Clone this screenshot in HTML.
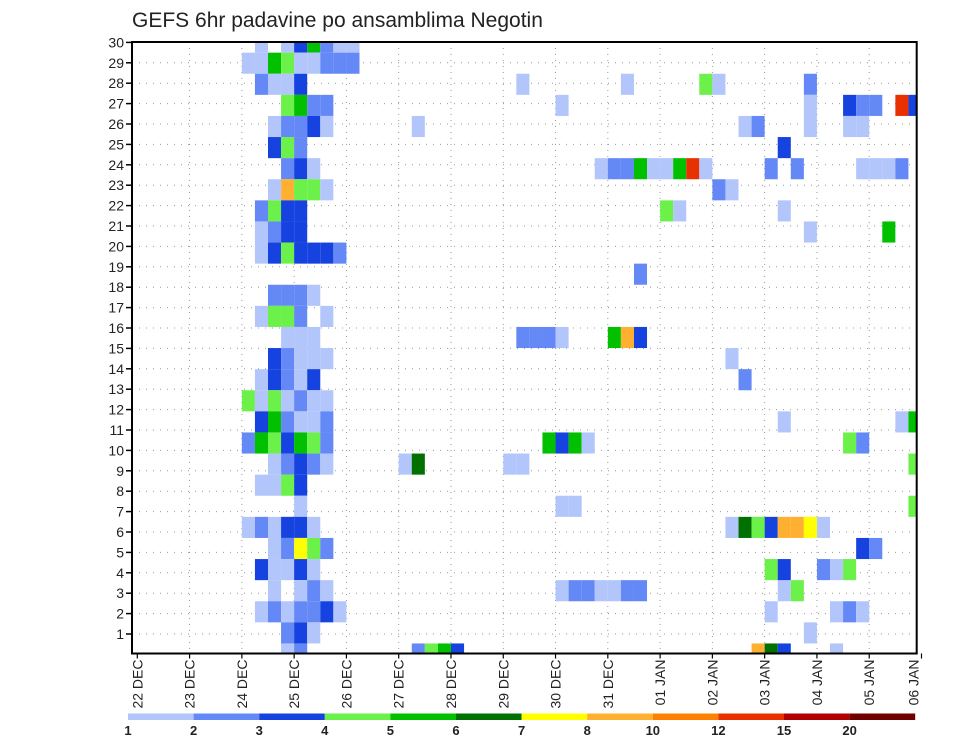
<!DOCTYPE html>
<html><head><meta charset="utf-8"><style>
html,body{margin:0;padding:0;background:#fff;}
svg{display:block;font-family:"Liberation Sans",sans-serif;}
</style></head><body>
<svg id="chart" width="960" height="742" viewBox="0 0 960 742" xmlns="http://www.w3.org/2000/svg">
<text x="132" y="27" font-size="21" fill="#222">GEFS 6hr padavine po ansamblima Negotin</text>
<g id="grid"></g>
<g id="cells"></g>
<rect x="132" y="42" width="784.7" height="611.5" fill="none" stroke="#000" stroke-width="2"/>
<g id="axes"></g>
<g id="colorbar"></g>
</svg>
<script>
// time categories (day labels) and members
const dayLabels = ["22 DEC","23 DEC","24 DEC","25 DEC","26 DEC","27 DEC","28 DEC","29 DEC","30 DEC","31 DEC","01 JAN","02 JAN","03 JAN","04 JAN","05 JAN","06 JAN"];
const memberTicks = [1,2,3,4,5,6,7,8,9,10,11,12,13,14,15,16,17,18,19,20,21,22,23,24,25,26,27,28,29,30];
// colour legend levels
const levelLabels = ["1","2","3","4","5","6","7","8","10","12","15","20"];
const levelColors = ["#b3c6fb","#6488f5","#1642e0","#6cf04a","#00c000","#007000","#ffff00","#ffb030","#ff8000","#e83000","#b00000","#700000"];
// cells: 6h step index, member band, colour class (1..12)
const cellStep = [
9,11,12,13,14,15,16,
8,9,10,11,12,13,14,15,16,
9,10,11,12,
11,12,13,14,
10,11,12,13,14,
10,11,12,
11,12,13,
10,11,12,13,14,
9,10,11,12,
9,10,11,12,
9,10,11,12,13,14,15,
10,11,12,13,
9,10,11,12,14,
11,12,13,
10,11,12,13,14,
9,10,11,12,13,
8,9,10,11,12,13,14,
9,10,11,12,13,14,
8,9,10,11,12,13,14,
10,11,12,13,14,
9,10,11,12,
12,
8,9,10,11,12,13,
10,11,12,13,14,
9,10,11,12,13,
10,12,13,14,
9,10,11,12,13,14,15,
11,12,13,
11,12,
21,29,32,
29,30,31,32,36,37,38,
31,32,33,34,
20,21,28,29,
32,33,
32,33,34,35,36,37,38,
21,22,23,24,
37,43,44,51,
51,54,55,56,58,59,
46,47,51,54,55,
49,
35,36,37,38,39,40,41,42,43,48,50,55,56,57,58,
44,45,
40,41,49,
51,57,
38,
45,46,
49,58,59,
54,55,
59,59,
47,48,49,53,
51,
48,53,54,55,
49,50,
48,49,52,53,54,
55,56,
45,46,47,48,49,50,51,52
];
const cellMember = [
29,29,29,29,29,29,29,
28,28,28,28,28,28,28,28,28,
27,27,27,27,
26,26,26,26,
25,25,25,25,25,
24,24,24,
23,23,23,
22,22,22,22,22,
21,21,21,21,
20,20,20,20,
19,19,19,19,19,19,19,
17,17,17,17,
16,16,16,16,16,
15,15,15,
14,14,14,14,14,
13,13,13,13,13,
12,12,12,12,12,12,12,
11,11,11,11,11,11,
10,10,10,10,10,10,10,
9,9,9,9,9,
8,8,8,8,
7,
6,6,6,6,6,6,
5,5,5,5,5,
4,4,4,4,4,
3,3,3,3,
2,2,2,2,2,2,2,
1,1,1,
0,0,
25,27,26,
15,15,15,15,15,15,15,
10,10,10,10,
9,9,9,9,
7,7,
3,3,3,3,3,3,3,
0,0,0,0,
27,27,27,27,
26,26,26,26,26,26,
25,25,25,25,25,
24,
23,23,23,23,23,23,23,23,23,23,23,23,23,23,23,
22,22,
21,21,21,
20,20,
18,
14,13,
11,11,11,
10,10,
9,7,
0,0,0,0,
1,
2,2,2,2,
3,3,
4,4,4,4,4,
5,5,
6,6,6,6,6,6,6,6
];
const cellLevel = [
1,1,3,5,2,1,1,
1,1,5,4,1,1,2,2,2,
2,1,1,3,
4,5,2,2,
1,2,2,3,1,
3,4,2,
2,3,1,
1,8,4,4,1,
2,4,3,3,
1,2,3,3,
1,3,4,3,3,3,2,
2,2,2,1,
1,4,4,2,1,
1,1,1,
3,2,1,1,1,
1,3,2,1,3,
4,1,4,1,2,1,1,
3,5,2,1,1,2,
2,5,4,3,5,4,2,
1,2,3,2,1,
1,1,4,3,
1,
1,2,1,3,3,1,
1,2,7,4,2,
3,1,1,3,1,
1,1,2,1,
1,2,1,2,2,3,1,
2,3,1,
1,2,
1,1,1,
2,2,2,1,5,8,3,
5,3,5,1,
1,6,1,1,
1,1,
1,2,2,1,1,2,2,
2,4,5,3,
1,4,1,2,
1,3,2,2,10,3,
1,2,1,1,1,
3,
1,2,2,5,1,1,5,10,1,2,2,1,1,1,2,
2,1,
4,1,1,
1,5,
2,
1,2,
1,1,5,
4,2,
4,4,
8,6,3,1,
1,
1,1,2,1,
1,4,
4,3,2,1,4,
3,2,
1,6,4,3,8,8,7,1
];
const NS="http://www.w3.org/2000/svg";
const L=132, R=916.7, T=42, B=653.5;
function xStep(k){return 137.3+13.07*k;}
function xDay(d){return 137.3+52.28*d;}
function yTick(n){return 654.4-20.4*n;}
function yBand(b){return 654-(b+0.5)*21.1;}
function mk(tag,attrs,parent){const e=document.createElementNS(NS,tag);for(const a in attrs)e.setAttribute(a,attrs[a]);parent.appendChild(e);return e;}
const grid=document.getElementById('grid');
for(let d=1;d<dayLabels.length-1;d++){
  const ln=mk('line',{x1:xDay(d),x2:xDay(d),y1:T,y2:B,stroke:'#999','stroke-width':1,'stroke-dasharray':'1 5'},grid);
  
  
}
for(const n of memberTicks){
  if(n===30)continue;
  const ln=mk('line',{x1:L,x2:R,y1:yTick(n),y2:yTick(n),stroke:'#999','stroke-width':1,'stroke-dasharray':'1 6'},grid);
  
  
}
const cells=document.getElementById('cells');
for(let i=0;i<cellStep.length;i++){
  let x=xStep(cellStep[i]), w=13.07;
  let y=yBand(cellMember[i]), h=21.1;
  if(y<T){h-=T-y;y=T;}
  if(y+h>B){h=B-y;}
  if(x+w>R){w=R-x;}
  const r=mk('rect',{x:x,y:y,width:w,height:h,fill:levelColors[cellLevel[i]-1]},cells);
  
  
}
const axes=document.getElementById('axes');
for(const n of memberTicks){
  const y=yTick(n);
  const t=mk('line',{x1:L-6,x2:L,y1:y,y2:y,stroke:'#000','stroke-width':1.5},axes);
  
  
  const tx=mk('text',{x:L-8,y:y+5,'text-anchor':'end','font-size':14,fill:'#222'},axes);
  tx.textContent=n;
  
  
}
for(let d=0;d<dayLabels.length;d++){
  const x=Math.min(xDay(d),R-3);
  const t=mk('line',{x1:xDay(d),x2:xDay(d),y1:B,y2:B+5,stroke:'#000','stroke-width':1.2},axes);
  
  
  const tx=mk('text',{x:0,y:0,'text-anchor':'end','font-size':14,fill:'#222',transform:'translate('+(x+5)+','+(B+6)+') rotate(-90)'},axes);
  tx.textContent=dayLabels[d];
  
  
}
const cb=document.getElementById('colorbar');
const cbX=128, cbW=65.6;
for(let i=0;i<levelColors.length;i++){
  const r=mk('rect',{x:cbX+i*cbW,y:713.5,width:cbW,height:6.5,fill:levelColors[i]},cb);
  
  
  const tx=mk('text',{x:cbX+i*cbW,y:735,'text-anchor':'middle','font-size':13,'font-weight':'bold',fill:'#222'},cb);
  tx.textContent=levelLabels[i];
  
  
}
</script>
</body></html>
